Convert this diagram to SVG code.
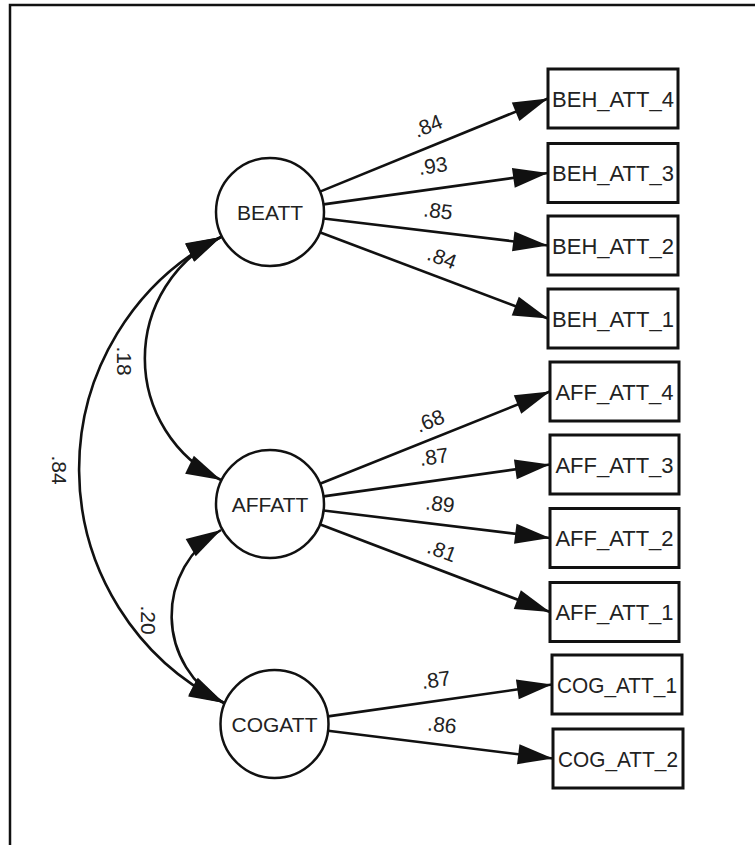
<svg xmlns="http://www.w3.org/2000/svg" width="755" height="845" viewBox="0 0 755 845">
<defs>
<style>
.frame{fill:none;stroke:#111;stroke-width:2.5}
.lat{fill:#fff;stroke:#111;stroke-width:2.5}
.obs{fill:#fff;stroke:#111;stroke-width:3}
.txt{font-family:"Liberation Sans",Arial,sans-serif;font-size:21px;fill:#222;text-anchor:middle}
.btxt{font-family:"Liberation Sans",Arial,sans-serif;font-size:22px;fill:#222;text-anchor:middle}
.lbl{font-family:"Liberation Sans",Arial,sans-serif;font-size:21px;fill:#222;text-anchor:middle}
.path{fill:none;stroke:#111;stroke-width:2.6}
.arr{marker-end:url(#ah)}
.cov{fill:none;stroke:#111;stroke-width:2.6;marker-start:url(#ahs);marker-end:url(#ah)}
</style>
<marker id="ah" markerUnits="userSpaceOnUse" markerWidth="40" markerHeight="24" viewBox="-36 -12 40 24" refX="0" refY="0" orient="auto">
<path d="M0,0 L-35,-10 L-35,10 Z" fill="#111"/>
</marker>
<marker id="ahs" markerUnits="userSpaceOnUse" markerWidth="40" markerHeight="24" viewBox="-36 -12 40 24" refX="0" refY="0" orient="auto-start-reverse">
<path d="M0,0 L-35,-10 L-35,10 Z" fill="#111"/>
</marker>
</defs>
<rect width="755" height="845" fill="#fff"/>
<path class="frame" d="M10,845 V5 H755"/>

<g id="connectors">
<path class="path arr" d="M320,191.6 L548,98.5"/>
<path class="path arr" d="M323.5,204.4 L548,173"/>
<path class="path arr" d="M323.6,218.5 L548,245.5"/>
<path class="path arr" d="M320.4,232.5 L548,318.5"/>
<path class="path arr" d="M320,483.8 L550,391.5"/>
<path class="path arr" d="M323.5,496.4 L550,464.5"/>
<path class="path arr" d="M323.6,510.5 L550,538"/>
<path class="path arr" d="M320.4,524.5 L550,612"/>
<path class="path arr" d="M328,716.4 L552,684.5"/>
<path class="path arr" d="M328,730.7 L553,758.5"/>
<path class="cov" d="M221,237 A135 135 0 0 0 221,480"/>
<path class="cov" d="M221,237 A261 261 0 0 0 224,703"/>
<path class="cov" d="M221,530 A99 99 0 0 0 224,703"/>
<g class="lbl">
<text transform="translate(428,126) rotate(-22)" y="7">.84</text>
<text transform="translate(433,166) rotate(-8)" y="7">.93</text>
<text transform="translate(438,211) rotate(7)" y="7">.85</text>
<text transform="translate(442,258) rotate(21)" y="7">.84</text>
<text transform="translate(430,421) rotate(-22)" y="7">.68</text>
<text transform="translate(434,457) rotate(-8)" y="7">.87</text>
<text transform="translate(440,504) rotate(7)" y="7">.89</text>
<text transform="translate(442,551) rotate(21)" y="7">.81</text>
<text transform="translate(436,680) rotate(-8)" y="7">.87</text>
<text transform="translate(442,725) rotate(7)" y="7">.86</text>
<text transform="translate(123.5,361) rotate(90)" y="7">.18</text>
<text transform="translate(59,470) rotate(90)" y="7">.84</text>
<text transform="translate(148,620) rotate(90)" y="7">.20</text>
</g>
</g>

<g id="BEATT"><circle class="lat" cx="270" cy="212" r="54"/><text class="txt" x="270" y="219.5">BEATT</text></g>
<g id="AFFATT"><circle class="lat" cx="270" cy="504" r="54"/><text class="txt" x="270" y="511.5">AFFATT</text></g>
<g id="COGATT"><circle class="lat" cx="274.5" cy="724" r="54"/><text class="txt" x="274.5" y="731.5">COGATT</text></g>

<g id="BEH_ATT_4"><rect class="obs" x="548" y="69" width="130" height="59"/><text class="btxt" x="613" y="106.5">BEH_ATT_4</text></g>
<g id="BEH_ATT_3"><rect class="obs" x="548" y="143.5" width="130" height="59"/><text class="btxt" x="613" y="181">BEH_ATT_3</text></g>
<g id="BEH_ATT_2"><rect class="obs" x="548" y="216" width="130" height="59"/><text class="btxt" x="613" y="253.5">BEH_ATT_2</text></g>
<g id="BEH_ATT_1"><rect class="obs" x="548" y="289" width="130" height="59"/><text class="btxt" x="613" y="326.5">BEH_ATT_1</text></g>
<g id="AFF_ATT_4"><rect class="obs" x="550" y="362" width="129" height="59"/><text class="btxt" x="614.5" y="399.5">AFF_ATT_4</text></g>
<g id="AFF_ATT_3"><rect class="obs" x="550" y="435" width="129" height="59"/><text class="btxt" x="614.5" y="472.5">AFF_ATT_3</text></g>
<g id="AFF_ATT_2"><rect class="obs" x="550" y="508.5" width="129" height="59"/><text class="btxt" x="614.5" y="546">AFF_ATT_2</text></g>
<g id="AFF_ATT_1"><rect class="obs" x="550" y="582.5" width="129" height="59"/><text class="btxt" x="614.5" y="620">AFF_ATT_1</text></g>
<g id="COG_ATT_1"><rect class="obs" x="552" y="655" width="130" height="59"/><text class="btxt" x="617" y="692.5" textLength="120" lengthAdjust="spacingAndGlyphs">COG_ATT_1</text></g>
<g id="COG_ATT_2"><rect class="obs" x="553" y="729" width="130" height="59"/><text class="btxt" x="618" y="766.5" textLength="120" lengthAdjust="spacingAndGlyphs">COG_ATT_2</text></g>
</svg>
